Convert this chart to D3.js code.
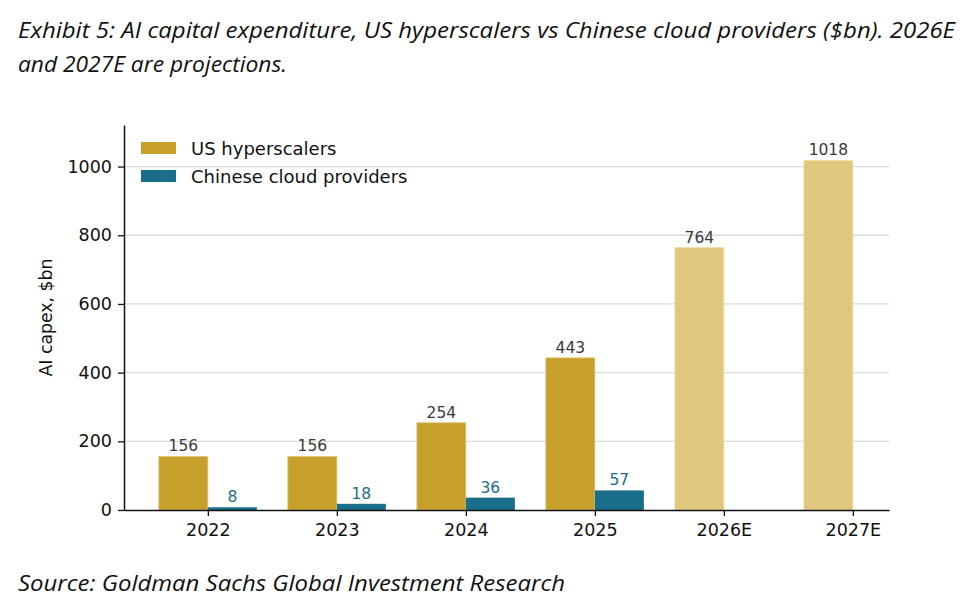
<!DOCTYPE html>
<html lang="en">
<head>
  <meta charset="UTF-8">
  <title>AI capex chart</title>
  <style>
    body { margin: 0; background: #fff; }
    svg { display: block; }
    .title { font-family: "Open Sans", Roboto, sans-serif; font-style: italic; font-size: 21px; fill: #111; }
    .tick text { font-family: "DejaVu Sans", sans-serif; font-size: 17.5px; fill: #111; }
  </style>
</head>
<body>
  <svg id="chart" width="973" height="604"></svg>
  <script src="https://d3js.org/d3.v7.min.js"></script>
  <script>
    // data
    const years = ["2022", "2023", "2024", "2025", "2026E", "2027E"];
    const usValues = [156, 156, 254, 443, 764, 1018];
    const cnValues = [8, 18, 36, 57, null, null];
    const projected = [false, false, false, false, true, true];
    const yTicks = [0, 200, 400, 600, 800, 1000];

    const svg = d3.select("#chart");
    const margin = { left: 124, right: 84, top: 125, bottom: 94 };
    const width = 973, height = 604;

    const x = d3.scaleLinear().domain([-0.65, 5.28]).range([margin.left, width - margin.right]);
    const y = d3.scaleLinear().domain([0, 1121]).range([height - margin.bottom, margin.top]);
    const bw = 0.38;

    const colUS = "#c79f2b", colCN = "#1b6e8a", colProj = "#e0c77e";

    // title + source
    svg.append("text").attr("class", "title").attr("x", 18).attr("y", 38)
      .attr("textLength", 937).attr("lengthAdjust", "spacingAndGlyphs")
      .text("Exhibit 5: AI capital expenditure, US hyperscalers vs Chinese cloud providers ($bn). 2026E");
    svg.append("text").attr("class", "title").attr("x", 18).attr("y", 72)
      .attr("textLength", 269).attr("lengthAdjust", "spacingAndGlyphs")
      .text("and 2027E are projections.");
    svg.append("text").attr("class", "title").attr("x", 18).attr("y", 591)
      .attr("textLength", 547).attr("lengthAdjust", "spacingAndGlyphs")
      .text("Source: Goldman Sachs Global Investment Research");

    // grid
    svg.append("g").selectAll("line").data(yTicks.filter(d => d > 0)).join("line")
      .attr("x1", x.range()[0]).attr("x2", x.range()[1])
      .attr("y1", d => y(d)).attr("y2", d => y(d))
      .attr("stroke", "#dcdcdc").attr("stroke-width", 1.3);

    // bars
    svg.append("g").selectAll("rect").data(usValues).join("rect")
      .attr("x", (d, i) => x(i - bw))
      .attr("width", x(bw) - x(0))
      .attr("y", d => y(d))
      .attr("height", d => y(0) - y(d))
      .attr("fill", (d, i) => projected[i] ? colProj : colUS)
      .attr("stroke", (d, i) => projected[i] ? "#f0dea6" : "#e0c67a")
      .attr("stroke-width", 0.8);

    const cnData = cnValues.map((v, i) => ({ v, i })).filter(d => d.v != null);
    svg.append("g").selectAll("rect").data(cnData).join("rect")
      .attr("x", d => x(d.i))
      .attr("width", x(bw) - x(0))
      .attr("y", d => y(d.v))
      .attr("height", d => y(0) - y(d.v))
      .attr("fill", colCN);

    // value labels
    svg.append("g").selectAll("text").data(usValues).join("text")
      .attr("x", (d, i) => x(i - bw / 2))
      .attr("y", d => y(d) - 5)
      .attr("text-anchor", "middle")
      .attr("font-family", "DejaVu Sans, sans-serif").attr("font-size", 15.5)
      .attr("fill", "#3a3a3a")
      .text(d => d);

    svg.append("g").selectAll("text").data(cnData).join("text")
      .attr("x", d => x(d.i + bw / 2))
      .attr("y", d => y(d.v) - 5)
      .attr("text-anchor", "middle")
      .attr("font-family", "DejaVu Sans, sans-serif").attr("font-size", 15.5)
      .attr("fill", colCN)
      .text(d => d.v);

    // axes
    const xAxis = svg.append("g").attr("transform", `translate(0,${y(0)})`)
      .call(d3.axisBottom(x).tickValues(d3.range(years.length)).tickFormat(i => years[i]).tickSize(6).tickPadding(6).tickSizeOuter(0));
    const yAxis = svg.append("g").attr("transform", `translate(${x.range()[0]},0)`)
      .call(d3.axisLeft(y).tickValues(yTicks).tickFormat(d3.format("d")).tickSize(6).tickPadding(6).tickSizeOuter(0));
    [xAxis, yAxis].forEach(g => {
      g.select(".domain").attr("stroke", "#111").attr("stroke-width", 1.5);
      g.selectAll(".tick line").attr("stroke", "#111").attr("stroke-width", 1.3);
    });
    xAxis.selectAll(".tick text").attr("dy", "0.8em");

    svg.append("text")
      .attr("transform", `translate(52,${(y.range()[0] + y.range()[1]) / 2}) rotate(-90)`)
      .attr("text-anchor", "middle")
      .attr("font-family", "DejaVu Sans, sans-serif").attr("font-size", 17.3)
      .attr("fill", "#111")
      .text("AI capex, $bn");

    // legend
    const legend = [
      { label: "US hyperscalers", color: colUS },
      { label: "Chinese cloud providers", color: colCN }
    ];
    const lg = svg.append("g").selectAll("g").data(legend).join("g")
      .attr("transform", (d, i) => `translate(141,${142 + i * 28})`);
    lg.append("rect").attr("width", 35).attr("height", 12).attr("fill", d => d.color);
    lg.append("text").attr("x", 50).attr("y", 13)
      .attr("font-family", "DejaVu Sans, sans-serif").attr("font-size", 18)
      .attr("fill", "#111")
      .text(d => d.label);
  </script>
</body>
</html>
